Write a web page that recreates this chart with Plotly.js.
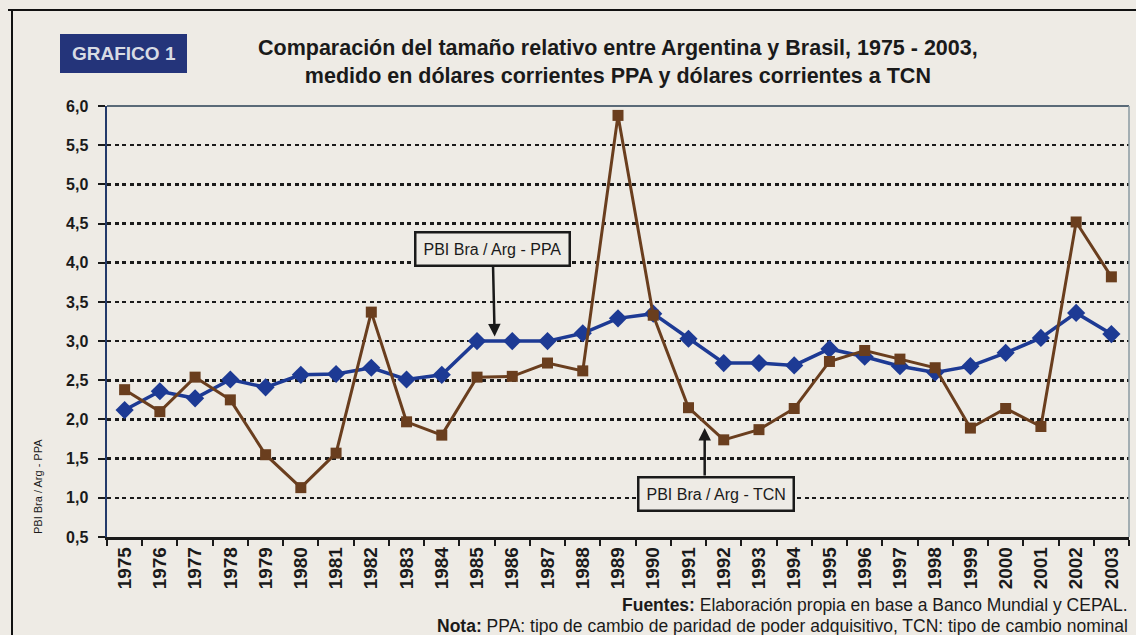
<!DOCTYPE html>
<html>
<head>
<meta charset="utf-8">
<script src="https://cdn.plot.ly/plotly-3.0.1.min.js"></script>
<style>
html,body{margin:0;padding:0;background:#eeebe5;}
#chart{width:1136px;height:635px;}
</style>
</head>
<body>
<div id="chart"></div>
<script>
const years = [1975,1976,1977,1978,1979,1980,1981,1982,1983,1984,1985,1986,1987,1988,1989,1990,1991,1992,1993,1994,1995,1996,1997,1998,1999,2000,2001,2002,2003];
const ppa = [2.12,2.36,2.27,2.51,2.41,2.57,2.58,2.66,2.51,2.57,3.00,3.00,3.00,3.10,3.29,3.35,3.03,2.72,2.72,2.69,2.90,2.80,2.68,2.60,2.68,2.85,3.04,3.36,3.09];
const tcn = [2.38,2.10,2.54,2.25,1.55,1.13,1.57,3.37,1.97,1.80,2.54,2.55,2.72,2.62,5.88,3.33,2.15,1.74,1.87,2.14,2.74,2.88,2.77,2.66,1.89,2.14,1.91,4.52,3.82];
const seriesNames = ["PBI Bra / Arg - PPA","PBI Bra / Arg - TCN"];
const yTicks = [0.5,1.0,1.5,2.0,2.5,3.0,3.5,4.0,4.5,5.0,5.5,6.0];

const NARROW = "'Liberation Sans Narrow','Arial Narrow','Liberation Sans',Arial,sans-serif";
const SANS = "'Liberation Sans',Arial,sans-serif";
const BLUE = "#1d3a94";
const BROWN = "#6a3e1e";
const BG = "#eeebe5";

const boundaries = years.map(y => y - 0.5).concat([years[years.length-1] + 0.5]);

// pixel -> paper helpers (plot area: x 107..1129, y 106..537)
const L = 107, R = 7, T = 106, B = 98, W = 1136 - L - R, H = 635 - T - B;
const px = x => (x - L) / W;
const py = y => (635 - B - y) / H;

const traces = [
  {x: years, y: ppa, name: seriesNames[0], type: "scatter", mode: "lines+markers",
   line: {color: BLUE, width: 3.5}, marker: {symbol: "diamond", size: 14, color: BLUE}},
  {x: years, y: tcn, name: seriesNames[1], type: "scatter", mode: "lines+markers",
   line: {color: BROWN, width: 3}, marker: {symbol: "square", size: 11, color: BROWN}}
];

const layout = {
  width: 1136, height: 635,
  paper_bgcolor: BG, plot_bgcolor: BG,
  separators: ",.",
  showlegend: false,
  margin: {l: L, r: R, t: T, b: B},
  xaxis: {
    range: [1974.5, 2003.5], tickmode: "array", tickvals: years, ticktext: years.map(String),
    tickangle: -90, ticks: "", showgrid: false, zeroline: false,
    tickfont: {family: NARROW, size: 19, color: "#1a1a1a", weight: "bold"},
    showline: true, linecolor: "#1a1a1a", linewidth: 2.5,
    minor: {tickmode: "array", tickvals: boundaries, ticks: "outside", ticklen: 6, tickwidth: 2, tickcolor: "#1a1a1a", showgrid: false}
  },
  yaxis: {
    range: [0.5, 6.0], tickmode: "array", tickvals: yTicks, tickformat: ".1f",
    ticks: "outside", ticklen: 7, tickwidth: 2, tickcolor: "#1a1a1a", ticklabelstandoff: 6,
    tickfont: {family: NARROW, size: 16, color: "#1a1a1a", weight: "bold"},
    showgrid: true, gridcolor: "#1a1a1a", gridwidth: 2.5, griddash: "4px,3.5px",
    zeroline: false, showline: true, linecolor: "#233a6a", linewidth: 2.5
  },
  shapes: [
    {type: "line", xref: "paper", yref: "paper", x0: 0, x1: 1, y0: 1, y1: 1, line: {color: "#5a6a78", width: 2}},
    {type: "line", xref: "paper", yref: "paper", x0: 1, x1: 1, y0: 0, y1: 1, line: {color: "#8a9aa0", width: 1.5}},
    {type: "line", xref: "paper", yref: "paper", x0: px(12), x1: px(12), y0: py(635), y1: py(10), line: {color: "#111", width: 2}},
    {type: "line", xref: "paper", yref: "paper", x0: px(8), x1: px(1136), y0: py(10), y1: py(10), line: {color: "#111", width: 2}},
    {type: "rect", xref: "paper", yref: "paper", x0: px(60), x1: px(187), y0: py(73), y1: py(34),
     fillcolor: "#24347a", line: {width: 0}}
  ],
  annotations: [
    {xref: "paper", yref: "paper", x: px(123.5), y: py(53.5), xanchor: "center", yanchor: "middle", text: "GRAFICO 1", showarrow: false,
     font: {family: NARROW, size: 19, color: "#d8dbe4", weight: "bold"}},
    {xref: "paper", yref: "paper", x: px(618), y: py(62), xanchor: "center", yanchor: "middle",
     text: "<b>Comparación del tamaño relativo entre Argentina y Brasil, 1975 - 2003,<br>medido en dólares corrientes PPA y dólares corrientes a TCN</b>",
     showarrow: false, font: {family: NARROW, size: 21.5, color: "#1a1a1a"}},
    {xref: "paper", yref: "paper", x: px(38), y: py(487), xanchor: "center", yanchor: "middle", text: "PBI Bra / Arg - PPA", textangle: -90,
     showarrow: false, font: {family: SANS, size: 11, color: "#1a1a1a"}},
    {x: 1985.5, y: 3.06, text: seriesNames[0], showarrow: true, ax: -2, ay: -87,
     arrowhead: 2, arrowsize: 1, arrowwidth: 2.5, arrowcolor: "#1a1a1a",
     bordercolor: "#1a1a1a", borderwidth: 2.5, borderpad: 7, bgcolor: BG,
     font: {family: SANS, size: 16, color: "#1a1a1a"}},
    {x: 1991.46, y: 1.89, text: "", showarrow: true, ax: 0, ay: 49, standoff: 0,
     arrowhead: 2, arrowsize: 1, arrowwidth: 2.5, arrowcolor: "#1a1a1a"},
    {xref: "x", yref: "y", x: 1991.77, y: 1.05, xanchor: "center", yanchor: "middle", text: seriesNames[1], showarrow: false,
     bordercolor: "#1a1a1a", borderwidth: 2.5, borderpad: 7, bgcolor: BG,
     font: {family: SANS, size: 16, color: "#1a1a1a"}},
    {xref: "paper", yref: "paper", x: px(1130), y: py(605), xanchor: "right", yanchor: "middle",
     text: "<b>Fuentes:</b> Elaboración propia en base a Banco Mundial y CEPAL.", showarrow: false,
     font: {family: NARROW, size: 17.5, color: "#1a1a1a"}},
    {xref: "paper", yref: "paper", x: px(1130), y: py(626), xanchor: "right", yanchor: "middle",
     text: "<b>Nota:</b> PPA: tipo de cambio de paridad de poder adquisitivo, TCN: tipo de cambio nominal", showarrow: false,
     font: {family: NARROW, size: 17.5, color: "#1a1a1a"}}
  ]
};

Plotly.newPlot("chart", traces, layout, {displayModeBar: false, staticPlot: true});
</script>
</body>
</html>
